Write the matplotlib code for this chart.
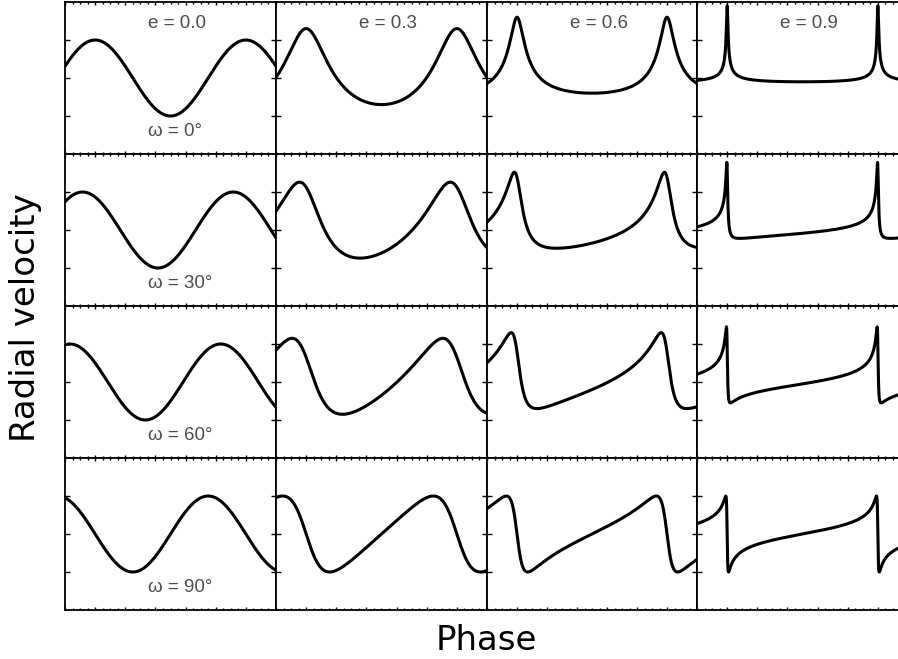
import numpy as np
import matplotlib
matplotlib.use('Agg')
import matplotlib.pyplot as plt
from matplotlib.ticker import MultipleLocator, FixedLocator

# orbit parameters for the grid: columns = eccentricity, rows = argument of periastron
eccentricities = [0.0, 0.3, 0.6, 0.9]
omegas_deg = [0, 30, 60, 90]
K = 1.0  # semi-amplitude

e_labels = ['e = 0.0', 'e = 0.3', 'e = 0.6', 'e = 0.9']
w_labels = ['ω = 0°', 'ω = 30°', 'ω = 60°', 'ω = 90°']

phase_lim = (-0.2, 1.2)
rv_lim = (-2.0, 2.0)

fig_w, fig_h = 898, 659
dpi = 100

# panel edges in pixels (the last column runs past the right edge)
col_edges_px = [65, 276, 487, 697, 908]
row_edges_px = [2, 154, 306, 458, 610]

label_font = ['Liberation Sans', 'DejaVu Sans']


def solve_kepler(M, e, n_iter=60):
    E = M.copy() if e < 0.8 else np.full_like(M, np.pi)
    for _ in range(n_iter):
        E = E - (E - e * np.sin(E) - M) / (1 - e * np.cos(E))
    return E


def radial_velocity(phase, e, omega_deg, K=1.0):
    w = np.radians(omega_deg)
    M = np.mod(2 * np.pi * phase, 2 * np.pi)
    E = solve_kepler(M, e)
    nu = 2 * np.arctan2(np.sqrt(1 + e) * np.sin(E / 2), np.sqrt(1 - e) * np.cos(E / 2))
    return K * (np.cos(nu + w) + e * np.cos(w))


fig = plt.figure(figsize=(fig_w / dpi, fig_h / dpi), dpi=dpi)
phase = np.linspace(phase_lim[0], phase_lim[1], 4000)

for row, w in enumerate(omegas_deg):
    for col, e in enumerate(eccentricities):
        x0 = col_edges_px[col] / fig_w
        width = (col_edges_px[col + 1] - col_edges_px[col]) / fig_w
        y0 = 1 - row_edges_px[row + 1] / fig_h
        height = (row_edges_px[row + 1] - row_edges_px[row]) / fig_h
        ax = fig.add_axes([x0, y0, width, height])
        ax.plot(phase, radial_velocity(phase, e, w, K), color='black', lw=2.2,
                solid_capstyle='round')
        ax.set_xlim(*phase_lim)
        ax.set_ylim(*rv_lim)
        ax.xaxis.set_major_locator(MultipleLocator(0.2))
        ax.xaxis.set_minor_locator(MultipleLocator(0.05))
        ax.yaxis.set_major_locator(FixedLocator([-1, 0, 1]))
        ax.tick_params(which='both', direction='in', top=True, right=True,
                       labelbottom=False, labelleft=False, width=1.0)
        ax.tick_params(axis='x', which='major', length=2.5)
        ax.tick_params(axis='y', which='major', length=3.5)
        ax.tick_params(which='minor', length=1.3)
        for s in ax.spines.values():
            s.set_linewidth(1.3)
        if row == 0:
            ax.text(0.35, 1.44, e_labels[col], ha='left', va='center',
                    fontsize=13.5, color='#4d4d4d', family=label_font)
        if col == 0:
            ax.text(0.35, -1.42, w_labels[row], ha='left', va='center',
                    fontsize=13.5, color='#4d4d4d', family=label_font)

fig.text(26 / fig_w, 1 - 318 / fig_h, 'Radial velocity', rotation=90,
         ha='center', va='center', fontsize=24.5)
fig.text(486 / fig_w, 1 - 650 / fig_h, 'Phase', ha='center', va='baseline',
         fontsize=24.5)

fig.savefig('out.png', dpi=dpi)
